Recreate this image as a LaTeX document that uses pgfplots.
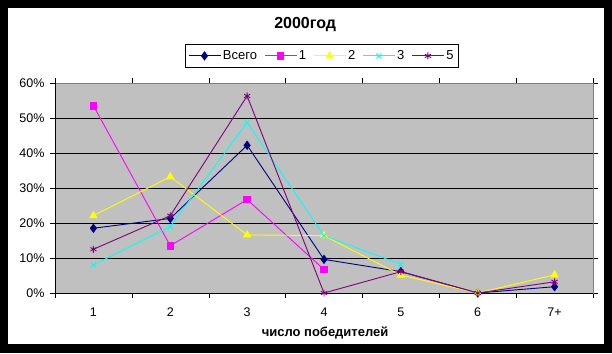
\documentclass[border=0pt]{standalone}
\usepackage{pgfplots}
\pgfplotsset{compat=1.18}
\usepackage{fontspec}
\setmainfont{Liberation Sans}
\definecolor{cnavy}{RGB}{0,0,128}
\definecolor{cmag}{RGB}{255,0,255}
\definecolor{cyel}{RGB}{255,255,0}
\definecolor{ccyan}{RGB}{0,255,255}
\definecolor{cpurp}{RGB}{128,0,128}
\definecolor{cbg}{RGB}{192,192,192}
\begin{document}
\begin{tikzpicture}
\fill[black] (0pt,0pt) rectangle (612pt,353pt);
\fill[white] (8pt,9pt) rectangle (604pt,345pt);
\begin{axis}[
  at={(55pt,60pt)}, anchor=south west,
  scale only axis, width=538pt, height=210pt,
  xmin=0.5, xmax=7.5, ymin=0, ymax=60,
  axis background/.style={fill=cbg},
  axis line style={draw=gray},
  xtick={1,2,3,4,5,6,7},
  xticklabels={1,2,3,4,5,6,7+},
  minor xtick={0.5,1.5,...,7.5},
  major x tick style={draw=none},
  minor x tick style={black},
  ytick={0,10,...,60},
  tick align=outside,
  major tick length=5pt, minor tick length=5pt,
  ymajorgrids, grid style={black, line width=0.8pt},
  y tick style={black},
  /pgf/number format/assume math mode=true,
  yticklabel={\pgfmathprintnumber{\tick}\%},
  tick label style={font=\fontsize{12.5}{14}\selectfont},
  xticklabel style={yshift=-6pt},
  yticklabel style={xshift=-2pt},
  title={\textbf{2000год}},
  title style={at={(axis description cs:0.465,1.252)}, anchor=center, font=\fontsize{16}{18}\selectfont},
  xlabel={\textbf{число победителей}},
  xlabel style={at={(axis description cs:0.502,-0.19)}, anchor=center, font=\fontsize{13}{14}\selectfont},
  legend columns=5,
  legend style={at={(axis description cs:0.496,1.129)}, anchor=center, draw=black, fill=white,
    font=\fontsize{13}{14}\selectfont, inner xsep=3pt, inner ysep=4pt,
    /tikz/every even column/.append style={column sep=5pt}},
  legend image code/.code={\draw[mark repeat=2,mark phase=2] plot coordinates {(0pt,0pt) (16pt,0pt) (32pt,0pt)};},
  every axis plot/.append style={line width=0.9pt},
]
\addplot[cnavy, mark=diamond*, mark size=4pt, mark options={fill=cnavy}] coordinates {
 (1,18.5) (2,21.3) (3,42.2) (4,9.6) (5,6.1) (6,0) (7,1.8)};
\addlegendentry{Всего}
\addplot[cmag, mark=square*, mark size=3.3pt, mark options={fill=cmag}] coordinates {
 (1,53.5) (2,13.5) (3,26.7) (4,6.7)};
\addlegendentry{1}
\addplot[cyel, mark=triangle*, mark size=4pt, mark options={fill=cyel}] coordinates {
 (1,22.1) (2,33.2) (3,16.6) (4,16.4) (5,5.1) (6,0) (7,5.2)};
\addlegendentry{2}
\addplot[ccyan, mark=x, mark size=3.5pt] coordinates {
 (1,8.0) (2,19.0) (3,48.7) (4,16.4) (5,8.2)};
\addlegendentry{3}
\addplot[cpurp, mark=asterisk, mark size=3.5pt] coordinates {
 (1,12.5) (2,22.1) (3,56.3) (4,0) (5,6.1) (6,0) (7,3.2)};
\addlegendentry{5}
\draw[black, line width=0.8pt] (rel axis cs:0,1) -- (rel axis cs:0,0) -- (rel axis cs:1,0);
\end{axis}
\end{tikzpicture}
\end{document}
